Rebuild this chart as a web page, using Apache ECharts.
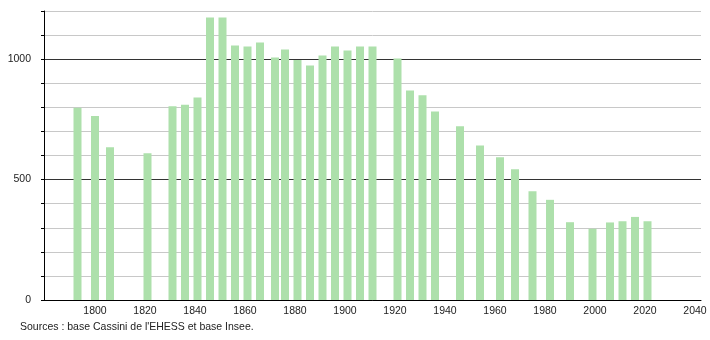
<!DOCTYPE html>
<html>
<head>
<meta charset="utf-8">
<script src="https://cdn.jsdelivr.net/npm/echarts@6/dist/echarts.min.js"></script>
<style>
html,body{margin:0;padding:0;background:#fff;}
#chart{width:710px;height:340px;}
</style>
</head>
<body>
<div id="chart"></div>
<script>
var years = [1793,1800,1806,1821,1831,1836,1841,1846,1851,1856,1861,1866,1872,1876,1881,1886,1891,1896,1901,1906,1911,1921,1926,1931,1936,1946,1954,1962,1968,1975,1982,1990,1999,2006,2011,2016,2021];
var population = [798,764,634,609,804,811,841,1173,1173,1057,1053,1069,1007,1040,997,974,1015,1053,1036,1053,1053,1003,870,850,783,721,642,593,543,452,416,323,296,322,327,345,327];
var xTickLabels = [1800,1820,1840,1860,1880,1900,1920,1940,1960,1980,2000,2020,2040];
var yTickLabels = [0,500,1000];
var sourceText = "Sources : base Cassini de l'EHESS et base Insee.";

var chart = echarts.init(document.getElementById('chart'), null, {renderer:'canvas'});
var FONT = '"Liberation Sans", Arial, sans-serif';
chart.setOption({
  animation:false,
  backgroundColor:'#ffffff',
  grid:{left:44,right:9,top:11,bottom:40,containLabel:false},
  xAxis:{
    type:'value',
    min:1779.6,
    max:2042.4,
    axisLine:{show:true,lineStyle:{color:'#000',width:1}},
    axisTick:{show:false},
    splitLine:{show:false},
    axisLabel:{
      customValues:xTickLabels,
      color:'#222',
      fontFamily:FONT,
      fontSize:10.5,
      margin:6,
      formatter:function(v){return String(v);}
    }
  },
  yAxis:{
    type:'value',
    min:0,
    max:1200,
    interval:100,
    axisLine:{show:true,lineStyle:{color:'#000',width:1}},
    axisTick:{show:true,length:3,lineStyle:{color:'#000'}},
    axisLabel:{
      color:'#222',
      fontFamily:FONT,
      fontSize:10.5,
      margin:13,
      formatter:function(v){return yTickLabels.indexOf(v)>=0 ? String(v) : '';}
    },
    splitLine:{show:true,lineStyle:{color:['#333','#c8c8c8','#c8c8c8','#c8c8c8','#c8c8c8'],width:1}}
  },
  series:[{
    type:'bar',
    data:years.map(function(y,i){return [y,population[i]];}),
    barWidth:8,
    itemStyle:{color:'#ade0ab'},
    silent:true
  }],
  graphic:[{
    type:'text',
    left:20,
    top:322,
    style:{text:sourceText,fill:'#222',font:'10.5px '+FONT}
  }]
});
</script>
</body>
</html>
